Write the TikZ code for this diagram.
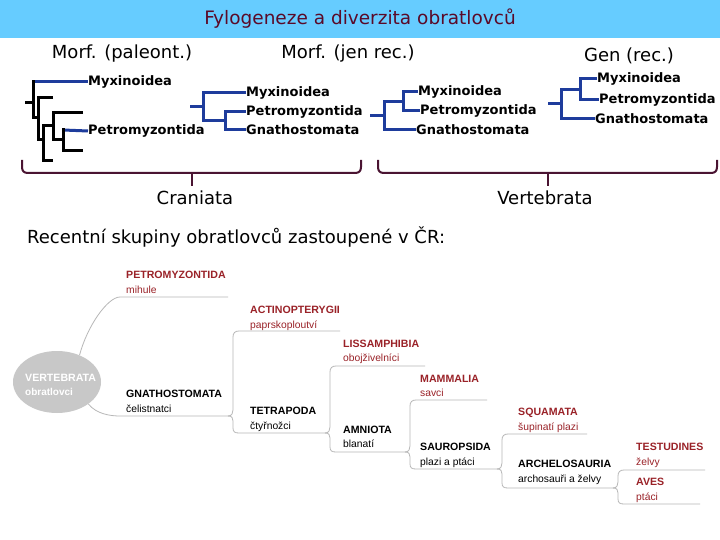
\documentclass[tikz,border=0pt]{standalone}
\usepackage{fontspec}
\setmainfont{DejaVu Sans}
\newfontfamily\arialf{Liberation Sans}
\usetikzlibrary{calc,shapes.geometric}
\definecolor{barblue}{HTML}{66CCFF}
\definecolor{titlered}{HTML}{5A0A28}
\definecolor{treeblue}{HTML}{1E3C9C}
\definecolor{bracecol}{HTML}{4A1432}
\definecolor{mmred}{HTML}{9A2228}
\definecolor{mmgray}{HTML}{B8B8B8}
\definecolor{ellgray}{HTML}{C8C8C8}
\newcommand{\mmfork}[6]{%
 \draw[mml] (#1,#2) .. controls +(4,0) and +(0,3) .. ($(#1,#2)+(5,-6)$) -- ($(#1,#3)+(5,6)$) .. controls +(0,-4) and +(-4,0) .. ($(#1,#3)+(11,0)$) -- (#4,#3);
 \draw[mml] (#1,#2) .. controls +(4,0) and +(0,-3) .. ($(#1,#2)+(5,5)$) -- ($(#1,#5)+(5,-5)$) .. controls +(0,4) and +(-4,0) .. ($(#1,#5)+(11,0)$) -- (#6,#5);}
\begin{document}
\begin{tikzpicture}[x=1pt,y=-1pt,
 bl/.style={treeblue,line width=3pt},
 bk/.style={black,line width=3pt},
 lab/.style={anchor=west,inner sep=0pt,font=\fontsize{13}{13}\selectfont\bfseries},
 head/.style={inner sep=0pt,font=\fontsize{18}{18}\selectfont},
 brc/.style={bracecol,line width=2pt},
 mml/.style={mmgray,line width=0.8pt},
 mt/.style={anchor=base west,inner sep=0pt,font=\arialf\fontsize{10.6}{11}\selectfont\bfseries},
 ms/.style={anchor=base west,inner sep=0pt,font=\arialf\fontsize{10.3}{11}\selectfont},
]
\useasboundingbox (0,0) rectangle (720,540);
\fill[white] (0,0) rectangle (720,540);
% title bar
\fill[barblue] (0,0) rectangle (720,38);
\node[inner sep=0pt,text=titlered,font=\fontsize{18.5}{19}\selectfont] (title) at (360,19) {Fylogeneze a diverzita obratlovců};
% headers
\node[head] (h1) at (122,54) {Morf. (paleont.)};
\node[head] (h2) at (348,54) {Morf. (jen rec.)};
\node[head] (h3) at (629,56) {Gen (rec.)};
% tree 1
\node[lab] (m1) at (88,82) {Myxinoidea};
\node[lab] (p1) at (88,131) {Petromyzontida};
\draw[bk] (25,103) -- (33,103);
\draw[bl] (33,82) -- (m1.west);
\draw[bk] (33,80.5) -- (33,118) -- (38,118);
\draw[bk] (53,98) -- (38,98) -- (38,140) -- (43,140);
\draw[bk] (53,126) -- (43,126) -- (43,161) -- (53,161);
\draw[bk] (83,113) -- (53,113) -- (53,140) -- (63,140);
\draw[bl] (p1.west) -- (63,130);
\draw[bk] (63,128.5) -- (63,151) -- (83,151);
% tree 2
\node[lab] (m2) at (246,93) {Myxinoidea};
\node[lab] (p2) at (246,112) {Petromyzontida};
\node[lab] (g2) at (246,130) {Gnathostomata};
\draw[bl] (190,107) -- (203,107);
\draw[bl] (m2.west) -- (203,93) -- (203,121) -- (225,121);
\draw[bl] (p2.west) -- (225,112) -- (225,130) -- (g2.west);
% tree 3
\node[lab] (m3) at (418,92) {Myxinoidea};
\node[lab] (p3) at (420,111) {Petromyzontida};
\node[lab] (g3) at (416,130) {Gnathostomata};
\draw[bl] (m3.west) -- (403,92) -- (403,111) -- (p3.west);
\draw[bl] (403,101.5) -- (384,101.5) -- (384,130) -- (g3.west);
\draw[bl] (370,116) -- (384,116);
% tree 4
\node[lab] (m4) at (597,79) {Myxinoidea};
\node[lab] (p4) at (599,100) {Petromyzontida};
\node[lab] (g4) at (595,119) {Gnathostomata};
\draw[bl] (m4.west) -- (580,79) -- (580,100) -- (p4.west);
\draw[bl] (580,89.5) -- (561,89.5) -- (561,119) -- (g4.west);
\draw[bl] (548,104) -- (561,104);
% braces
\draw[brc] (22,160) -- (22,167) .. controls +(0,4) and +(-4,0) .. (28,173) -- (355,173) .. controls +(4,0) and +(0,4) .. (361,167) -- (361,160);
\draw[brc] (192,173) -- (192,186);
\draw[brc] (378,160) -- (378,167) .. controls +(0,4) and +(-4,0) .. (384,173) -- (711,173) .. controls +(4,0) and +(0,4) .. (717,167) -- (717,160);
\draw[brc] (548,173) -- (548,186);
\node[head] (cr) at (195,198) {Craniata};
\node[head] (ve) at (545,198) {Vertebrata};
\node[head,anchor=west] (rec) at (27,237) {Recentní skupiny obratlovců zastoupené v ČR:};
% mind map
\node[ellipse,fill=ellgray,minimum width=88pt,minimum height=62pt,inner sep=0pt] (root) at (57,382) {};
\node[mt,text=white] (rt) at (25,381) {VERTEBRATA};
\node[ms,text=white,font=\arialf\fontsize{10}{10}\selectfont\bfseries] (rs) at (25,395) {obratlovci};
\draw[mml] (root.50) .. controls +(8,-30) and +(-12,0) .. (120,297) -- (228,297);
\draw[mml] (root.-35) .. controls +(8,10) and +(-10,0) .. (120,416) -- (228,416);
\node[mt,text=mmred] (pet) at (126,278) {PETROMYZONTIDA};
\node[ms,text=mmred] (pets) at (126,293) {mihule};
\node[mt] (gna) at (126,397) {GNATHOSTOMATA};
\node[ms] (gnas) at (126,412) {čelistnatci};
\node[mt,text=mmred] (act) at (250,313) {ACTINOPTERYGII};
\node[ms,text=mmred] (acts) at (250,328) {paprskoploutví};
\node[mt] (tet) at (250,414) {TETRAPODA};
\node[ms] (tets) at (250,429) {čtyřnožci};
\node[mt,text=mmred] (lis) at (343,347) {LISSAMPHIBIA};
\node[ms,text=mmred] (liss) at (343,361) {obojživelníci};
\node[mt] (amn) at (343,433) {AMNIOTA};
\node[ms] (amns) at (343,447) {blanatí};
\node[mt,text=mmred] (mam) at (420,382) {MAMMALIA};
\node[ms,text=mmred] (mams) at (420,396) {savci};
\node[mt] (sau) at (420,450) {SAUROPSIDA};
\node[ms] (saus) at (420,465) {plazi a ptáci};
\node[mt,text=mmred] (squ) at (518,415) {SQUAMATA};
\node[ms,text=mmred] (squs) at (518,430) {šupinatí plazi};
\node[mt] (arc) at (518,467) {ARCHELOSAURIA};
\node[ms] (arcs) at (518,482) {archosauři a želvy};
\node[mt,text=mmred] (tes) at (636,450) {TESTUDINES};
\node[ms,text=mmred] (tess) at (636,465) {želvy};
\node[mt,text=mmred] (ave) at (636,485) {AVES};
\node[ms,text=mmred] (aves) at (636,500) {ptáci};
\mmfork{228}{416}{331}{340}{433}{325}
\mmfork{325}{433}{366}{425}{452}{405}
\mmfork{405}{452}{400}{487}{469}{497}
\mmfork{497}{469}{434}{587}{488}{613}
\mmfork{613}{488}{470}{705}{504}{700}
\end{tikzpicture}
\end{document}
